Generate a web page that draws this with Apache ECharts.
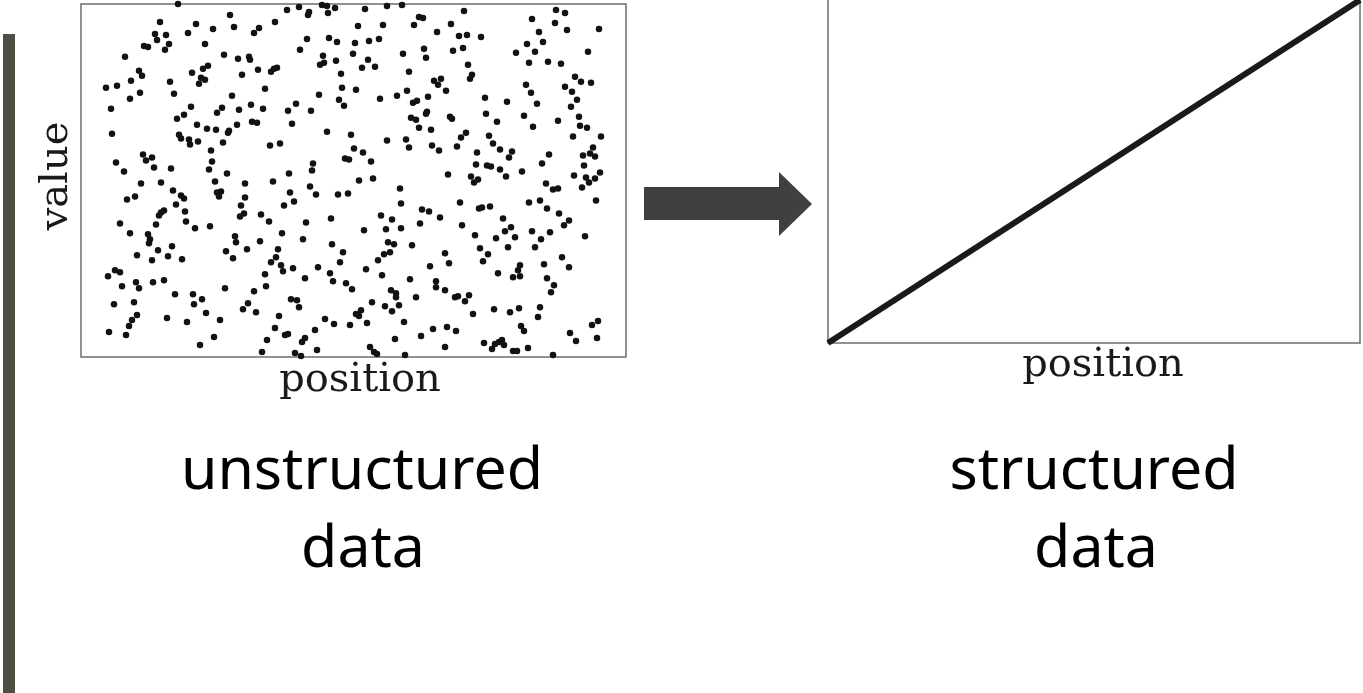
<!DOCTYPE html>
<html>
<head>
<meta charset="utf-8">
<script src="https://cdn.jsdelivr.net/npm/echarts@6/dist/echarts.min.js"></script>
<style>
  html, body { margin: 0; padding: 0; background: #fff; }
  #chart { width: 1363px; height: 693px; }
</style>
</head>
<body>
<div id="chart"></div>
<script>
// left panel: scattered points, [position, value]
const unstructuredPoints = [
  [97,354],[149,343],[115,334],[79,336],[153,331],[132,329],[107,325],[173,325],[178,330],[74,324],
  [85,323],[76,318],[63,312],[67,311],[88,314],[84,308],[124,314],[44,301],[143,303],[157,299],
  [168,301],[169,298],[127,292],[122,289],[111,285],[58,287],[61,282],[50,277],[89,276],[120,280],
  [124,278],[118,274],[161,283],[177,288],[25,270],[36,272],[59,265],[49,259],[93,264],[151,262],
  [30,249],[110,251],[141,250],[136,245],[158,248],[170,253],[103,243],[96,239],[171,236],[176,235],
  [156,233],[116,233],[126,229],[135,228],[147,225],[148,227],[31,224],[98,223],[100,219],[108,218],
  [109,213],[117,216],[142,215],[130,207],[62,203],[71,200],[65,197],[35,195],[131,196],[73,190],
  [90,189],[128,188],[43,186],[146,184],[134,176],[60,174],[80,175],[164,174],
  [46,158],[54,161],[92,167],[100,162],[103,159],[95,153],[136,165],[140,166],[138,161],[164,160],
  [160,152],[159,141],[163,144],[180,143],[104,146],[83,147],[80,145],[78,142],[39,134],[75,133],
  [105,136],[114,129],[129,131],[49,124],[67,123],[69,118],[68,114],[154,121],[155,115],[179,116],
  [77,107],[91,111],[145,106],[166,108],[56,102],[87,101],[71,97],[101,98],[152,99],[34,87],
  [39,85],[27,81],[41,71],[55,75],[58,69],[72,75],[83,77],[144,69],[184,83],[173,66],
  [94,63],[112,63],[121,58],[113,53],[33,53],[53,55],[167,54],[162,48],[175,45],[56,42],
  [51,37],[48,31],[86,39],[106,35],[125,44],[139,37],[28,25],[45,22],[133,20],[119,12],[181,5],
  [206,348],[218,351],[228,346],[227,343],[233,355],[241,353],[246,352],[247,345],[254,350],[284,349],
  [306,352],[321,353],[194,336],[277,332],[302,333],[333,333],[338,341],[342,340],[356,326],[226,319],
  [248,320],[256,316],[274,315],[288,317],[298,319],[219,308],[242,302],[272,304],[322,304],[343,309],
  [345,300],[239,293],[243,295],[255,297],[287,298],[281,290],[294,291],[190,286],[193,289],[196,290],
  [260,284],[328,286],[353,277],[357,273],[360,279],[184,269],[261,270],[275,268],[238,263],[326,267],
  [299,259],[316,262],[332,255],[336,257],[347,261],[258,258],[263,252],[182,249],[207,247],[215,254],
  [230,247],[211,234],[330,240],[335,238],[345,244],[346,246],[338,230],[350,228],[246,226],[270,223],
  [306,217],[325,218],[328,210],[351,212],[358,207],[189,212],[199,214],[273,209],[282,205],[264,199],
  [268,198],[290,196],[232,194],[231,187],[208,184],[192,176],[278,177],[292,179],
  [229,171],[209,165],[235,163],[213,156],[203,152],[257,163],[267,164],[319,169],[320,154],[341,148],
  [348,146],[359,140],[339,134],[188,136],[225,135],[250,139],[300,142],[311,138],[320,129],[305,128],
  [283,127],[201,124],[222,118],[251,113],[307,115],[313,113],[331,112],[197,108],[195,100],[190,95],
  [200,92],[202,86],[212,89],[262,105],[259,95],[309,105],[303,103],[297,97],[185,71],[224,79],
  [237,90],[249,84],[252,76],[265,74],[271,68],[285,88],[301,82],[349,91],[329,78],[355,76],
  [355,70],[310,67],[315,64],[315,60],[318,52],[311,46],[304,51],[335,60],[291,55],[210,58],
  [216,57],[218,50],[198,41],[194,29],[204,22],[207,23],[186,17],[221,15],[224,19],[234,27],
  [244,38],[253,33],[269,32],[275,43],[280,47],[278,41],[286,34],[323,35],[352,28],[340,21],
  [314,18],[214,4],[220,1],[236,7],[289,10],[293,5],[296,3],[324,2],
  [383,347],[370,334],[378,322],[386,323],[400,321],[372,307],[382,310],[387,293],[391,283],[389,279],
  [365,267],[451,339],[475,348],[484,345],[474,335],[486,328],[458,326],[518,329],[446,314],[462,316],
  [454,306],[435,305],[507,306],[448,295],[467,296],[480,294],[494,281],[500,276],[510,275],[445,273],
  [450,265],[484,271],[491,266],[496,258],[490,251],[404,260],[426,256],[456,254],[369,241],[371,239],
  [405,244],[416,236],[443,242],[477,237],[498,241],[452,231],[499,232],[506,230],[385,225],[380,220],
  [376,211],[408,222],[412,214],[419,208],[431,206],[428,200],[396,205],[395,193],[406,192],[410,191],
  [419,188],[425,181],[441,186],[461,194],[468,203],[492,221],[520,221],[512,210],[502,202],[509,204],
  [514,201],[503,192],[493,182],[505,180],[514,179],[519,185],[508,175],[367,183],[390,181],[397,178],
  [393,175],[465,174],
  [472,168],[477,169],[501,170],[515,157],[379,155],[398,149],[401,150],[409,151],[448,155],[459,157],
  [466,149],[478,144],[488,137],[483,132],[504,121],[422,139],[430,130],[424,126],[434,120],[415,119],
  [451,126],[469,125],[460,118],[454,110],[381,132],[394,122],[399,109],[407,103],[402,96],[427,110],
  [364,104],[368,94],[439,92],[437,87],[439,81],[432,80],[417,84],[463,93],[481,100],[488,90],
  [466,79],[473,72],[470,65],[364,67],[374,60],[377,61],[388,62],[384,56],[392,43],[413,48],
  [429,45],[438,49],[459,50],[457,40],[440,31],[443,26],[366,30],[375,26],[511,32],[517,36],
  [489,24],[495,16],[516,19],[403,14],[414,13],[418,15],[421,17],[423,12],[411,8],[432,6],
  [436,6],[447,9],[472,2],[364,10]
];
const unstructuredXRange = [0, 545];
const unstructuredYRange = [0, 354];

// right panel: a straight rising line
const linePositions = [0, 1];
const lineValues = [0, 1];

const labels = {
  yName: 'value',
  xName: 'position',
  leftTitle: ['unstructured', 'data'],
  rightTitle: ['structured', 'data']
};

const chart = echarts.init(document.getElementById('chart'), null, { renderer: 'canvas' });

const serif = '"DejaVu Serif", "Liberation Serif", serif';
const sans = '"Noto Sans", "Open Sans", sans-serif';
const frame = { show: true, lineStyle: { color: '#6e6e6e', width: 1.5 } };

function hiddenAxis(extra) {
  return Object.assign({
    axisLine: { show: false },
    axisTick: { show: false },
    axisLabel: { show: false },
    splitLine: { show: false }
  }, extra);
}

const option = {
  animation: false,
  backgroundColor: '#ffffff',
  grid: [
    { left: 81, top: 4, width: 545, height: 353, show: true, borderColor: '#6e6e6e', borderWidth: 1.5, backgroundColor: 'transparent' },
    // right panel: open at the top, so its frame comes from axis lines
    { left: 828, top: 0, width: 532, height: 343, show: false }
  ],
  xAxis: [
    hiddenAxis({ gridIndex: 0, type: 'value', min: unstructuredXRange[0], max: unstructuredXRange[1] }),
    hiddenAxis({ gridIndex: 1, type: 'value', min: 0, max: 1, axisLine: frame })
  ],
  yAxis: [
    hiddenAxis({ gridIndex: 0, type: 'value', min: unstructuredYRange[0], max: unstructuredYRange[1] }),
    hiddenAxis({ gridIndex: 1, type: 'value', min: 0, max: 1, position: 'left', axisLine: frame }),
    hiddenAxis({ gridIndex: 1, type: 'value', min: 0, max: 1, position: 'right', axisLine: frame })
  ],
  series: [
    {
      type: 'scatter',
      xAxisIndex: 0, yAxisIndex: 0,
      data: unstructuredPoints,
      symbolSize: 6.5,
      itemStyle: { color: '#121212', opacity: 1 },
      clip: true,
      silent: true
    },
    {
      type: 'line',
      xAxisIndex: 1, yAxisIndex: 1,
      data: linePositions.map((p, i) => [p, lineValues[i]]),
      showSymbol: false,
      lineStyle: { color: '#1a1a1a', width: 6 },
      clip: true,
      silent: true
    }
  ],
  graphic: [
    // dark bar at the left edge
    { type: 'rect', shape: { x: 3, y: 34, width: 12, height: 660 }, style: { fill: '#4e4e44' }, silent: true },
    // arrow between panels
    {
      type: 'polygon',
      shape: { points: [[644, 187], [779, 187], [779, 172], [812, 204], [779, 236], [779, 220], [644, 220]] },
      style: { fill: '#404040' },
      silent: true
    },
    // axis names
    { type: 'text', x: 57, y: 176, rotation: Math.PI / 2, style: { text: labels.yName, font: '40px ' + serif, fill: '#1a1a1a', align: 'center', verticalAlign: 'middle' } },
    { type: 'text', x: 360, y: 381, style: { text: labels.xName, font: '40px ' + serif, fill: '#1a1a1a', align: 'center', verticalAlign: 'middle' } },
    { type: 'text', x: 1103, y: 366, style: { text: labels.xName, font: '40px ' + serif, fill: '#1a1a1a', align: 'center', verticalAlign: 'middle' } },
    // titles
    { type: 'text', x: 362, y: 472, style: { text: labels.leftTitle[0], font: '59px ' + sans, fill: '#000', align: 'center', verticalAlign: 'middle' } },
    { type: 'text', x: 363, y: 550, style: { text: labels.leftTitle[1], font: '59px ' + sans, fill: '#000', align: 'center', verticalAlign: 'middle' } },
    { type: 'text', x: 1094, y: 472, style: { text: labels.rightTitle[0], font: '59px ' + sans, fill: '#000', align: 'center', verticalAlign: 'middle' } },
    { type: 'text', x: 1096, y: 550, style: { text: labels.rightTitle[1], font: '59px ' + sans, fill: '#000', align: 'center', verticalAlign: 'middle' } }
  ]
};

chart.setOption(option);
</script>
</body>
</html>
